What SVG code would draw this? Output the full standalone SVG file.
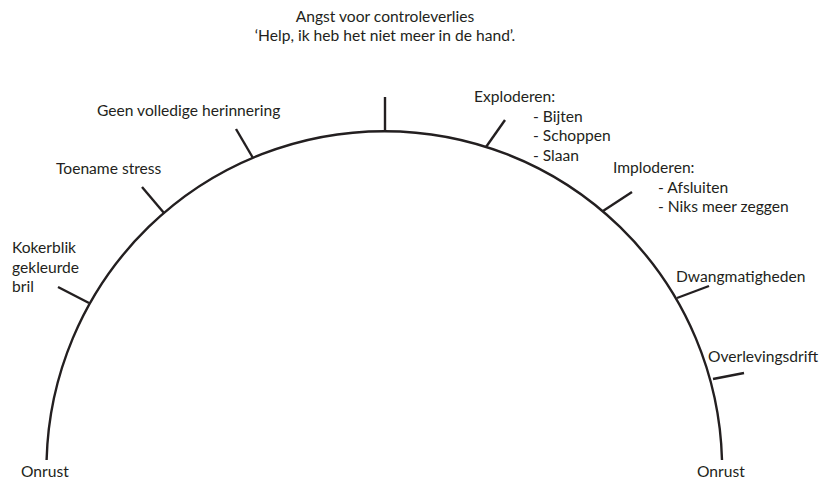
<svg xmlns="http://www.w3.org/2000/svg" width="823" height="481" viewBox="0 0 823 481">
<style>
text{font-family:Lato,"Open Sans","Liberation Sans",sans-serif;font-size:15.6px;fill:#231f20}
.c{text-anchor:middle}
.ln{fill:none;stroke:#231f20;stroke-width:2.4;stroke-linecap:butt}
</style>
<rect width="823" height="481" fill="#fff"/>
<g id="connectors">
<path id="arc" class="ln" d="M 46.6 460 A 337.82 337.82 0 0 1 722 460"/>
<line class="ln" x1="385" y1="131" x2="385" y2="97"/>
<line class="ln" x1="89" y1="303" x2="58" y2="287"/>
<line class="ln" x1="164" y1="213" x2="142" y2="187"/>
<line class="ln" x1="253" y1="158" x2="236" y2="129"/>
<line class="ln" x1="486" y1="147" x2="505" y2="120"/>
<line class="ln" x1="603" y1="211" x2="632" y2="192"/>
<line class="ln" x1="677" y1="298" x2="709" y2="286"/>
<line class="ln" x1="713" y1="379" x2="744" y2="373"/>
</g>
<g id="title"><text class="c" x="385" y="22">Angst voor controleverlies</text><text class="c" x="385" y="41">‘Help, ik heb het niet meer in de hand’.</text></g>
<g id="onrust-left"><text x="21" y="477">Onrust</text></g>
<g id="kokerblik"><text x="12" y="253">Kokerblik</text><text x="12" y="272.5">gekleurde</text><text x="12" y="292">bril</text></g>
<g id="toename"><text x="56" y="174">Toename stress</text></g>
<g id="geen"><text x="97" y="116">Geen volledige herinnering</text></g>
<g id="exploderen"><text x="474" y="102">Exploderen:</text><text x="533" y="121.5">- Bijten</text><text x="533" y="141">- Schoppen</text><text x="533" y="160.5">- Slaan</text></g>
<g id="imploderen"><text x="613" y="173">Imploderen:</text><text x="658" y="192.5">- Afsluiten</text><text x="658" y="212">- Niks meer zeggen</text></g>
<g id="dwang"><text x="676" y="282">Dwangmatigheden</text></g>
<g id="overlevings"><text x="708" y="362">Overlevingsdrift</text></g>
<g id="onrust-right"><text x="697" y="477">Onrust</text></g>
</svg>
